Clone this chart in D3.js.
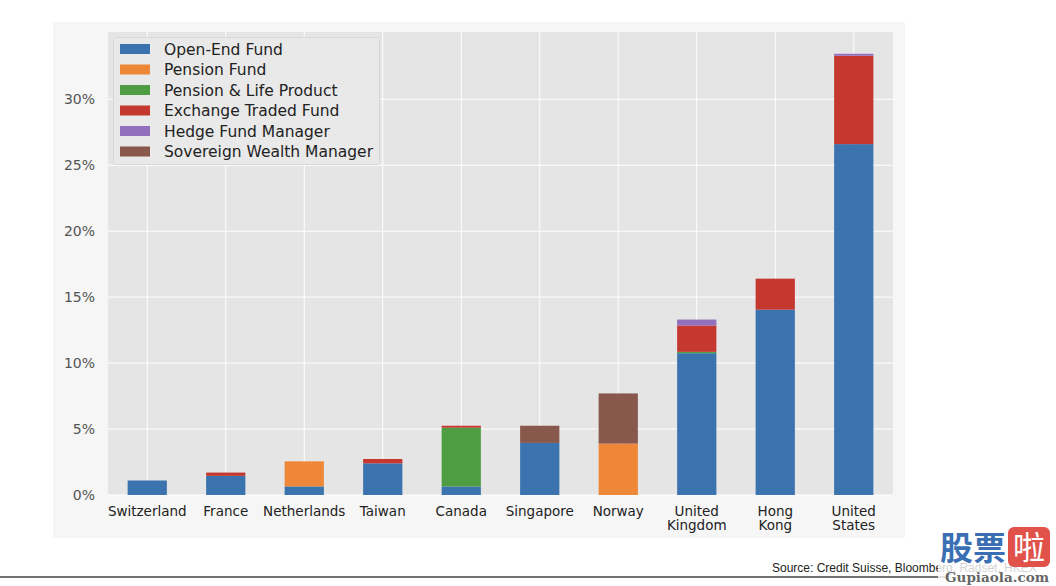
<!DOCTYPE html>
<html>
<head>
<meta charset="utf-8">
<script src="https://cdn.jsdelivr.net/npm/d3@7"></script>
<style>
	body { margin: 0; background: #fff; }
	svg { display: block; }
</style>
</head>
<body>
<div id="chart"></div>
<script>
// countries along the x axis (two-line labels split on \n)
var countries = ['Switzerland', 'France', 'Netherlands', 'Taiwan', 'Canada', 'Singapore', 'Norway', 'United\nKingdom', 'Hong\nKong', 'United\nStates'];
var seriesNames = ['Open-End Fund', 'Pension Fund', 'Pension & Life Product', 'Exchange Traded Fund', 'Hedge Fund Manager', 'Sovereign Wealth Manager'];
var seriesColors = ['#3a73ae', '#ee8737', '#4f9d42', '#c4382f', '#9370bd', '#87584b'];

// % share, one array per series, same order as countries
var openEnd      = [1.1, 1.45, 0.65, 2.4, 0.65, 3.95, 0, 10.75, 14.05, 26.6];
var pensionFund  = [0, 0, 1.9, 0, 0, 0, 3.9, 0, 0, 0];
var pensionLife  = [0, 0, 0, 0, 4.45, 0, 0, 0.1, 0, 0];
var etf          = [0, 0.25, 0, 0.33, 0.15, 0, 0, 2.0, 2.35, 6.7];
var hedgeFund    = [0, 0, 0, 0, 0, 0, 0, 0.45, 0, 0.15];
var sovereign    = [0, 0, 0, 0, 0, 1.3, 3.8, 0, 0, 0];
var yTicks = [0, 5, 10, 15, 20, 25, 30];

var W = 1056, H = 586;
var plot = { left: 108, right: 893, top: 32, bottom: 495 };

var svg = d3.select('#chart').append('svg')
	.attr('width', W)
	.attr('height', H);

// figure + axes background
svg.append('rect').attr('x', 53).attr('y', 22).attr('width', 852).attr('height', 516).attr('fill', '#f6f6f6');
svg.append('rect')
	.attr('x', plot.left).attr('y', plot.top)
	.attr('width', plot.right - plot.left).attr('height', plot.bottom - plot.top)
	.attr('fill', '#e5e5e5');

var x = d3.scaleBand()
	.domain(countries)
	.range([plot.left, plot.right])
	.paddingInner(0.5)
	.paddingOuter(0.25);

var y = d3.scaleLinear()
	.domain([0, 35.1])
	.range([plot.bottom, plot.top]);

// grid
var grid = svg.append('g').attr('class', 'grid');
grid.selectAll('line.h')
	.data(yTicks)
	.enter()
	.append('line')
	.attr('class', 'h')
	.attr('x1', plot.left).attr('x2', plot.right)
	.attr('y1', function(d){ return y(d); })
	.attr('y2', function(d){ return y(d); })
	.attr('stroke', '#fff').attr('stroke-width', 1);
grid.selectAll('line.v')
	.data(countries)
	.enter()
	.append('line')
	.attr('class', 'v')
	.attr('y1', plot.top).attr('y2', plot.bottom)
	.attr('x1', function(d){ return x(d) + x.bandwidth() / 2; })
	.attr('x2', function(d){ return x(d) + x.bandwidth() / 2; })
	.attr('stroke', '#fff').attr('stroke-width', 1);

// stack the series
var rows = countries.map(function(c, i){
	return {
		country: c,
		s0: openEnd[i], s1: pensionFund[i], s2: pensionLife[i],
		s3: etf[i], s4: hedgeFund[i], s5: sovereign[i]
	};
});
var stack = d3.stack().keys(['s0', 's1', 's2', 's3', 's4', 's5']);
var layers = stack(rows);

svg.append('g').attr('class', 'bars')
	.selectAll('g')
	.data(layers)
	.enter()
	.append('g')
	.attr('fill', function(d, i){ return seriesColors[i]; })
	.selectAll('rect')
	.data(function(d){ return d; })
	.enter()
	.append('rect')
	.attr('x', function(d){ return x(d.data.country); })
	.attr('width', x.bandwidth())
	.attr('y', function(d){ return y(d[1]); })
	.attr('height', function(d){ return y(d[0]) - y(d[1]); });

// y axis labels
var yAxis = d3.axisLeft(y)
	.tickValues(yTicks)
	.tickSize(0)
	.tickPadding(13)
	.tickFormat(function(d){ return d + '%'; });
var yg = svg.append('g')
	.attr('transform', 'translate(' + plot.left + ',0)')
	.call(yAxis);
yg.select('.domain').remove();
yg.selectAll('text')
	.attr('font-family', 'DejaVu Sans')
	.attr('font-size', '14px')
	.attr('fill', '#555');

// x axis labels
var xAxis = d3.axisBottom(x).tickSize(0).tickPadding(0);
var xg = svg.append('g')
	.attr('transform', 'translate(0,' + plot.bottom + ')')
	.call(xAxis);
xg.select('.domain').remove();
xg.selectAll('text').remove();
xg.selectAll('.tick').each(function(d){
	var lines = d.split('\n');
	var t = d3.select(this).append('text')
		.attr('text-anchor', 'middle')
		.attr('font-family', 'DejaVu Sans')
		.attr('font-size', '13.5px')
		.attr('fill', '#222');
	lines.forEach(function(l, k){
		t.append('tspan').attr('x', 0).attr('y', 21 + k * 14).text(l);
	});
});

// legend
var legend = svg.append('g').attr('class', 'legend');
legend.append('rect')
	.attr('x', 113.5).attr('y', 37.5).attr('width', 266).attr('height', 127).attr('rx', 2)
	.attr('fill', '#e9e9e9').attr('stroke', '#d8d8d8');
var items = legend.selectAll('g.item')
	.data(seriesNames)
	.enter()
	.append('g')
	.attr('class', 'item')
	.attr('transform', function(d, i){ return 'translate(120,' + (49 + i * 20.5) + ')'; });
items.append('rect')
	.attr('x', 0).attr('y', -5).attr('width', 30).attr('height', 10)
	.attr('fill', function(d, i){ return seriesColors[i]; });
items.append('text')
	.attr('x', 44).attr('y', 5.5)
	.attr('font-family', 'DejaVu Sans')
	.attr('font-size', '15.5px')
	.attr('fill', '#222')
	.text(function(d){ return d; });

// footer
svg.append('line')
	.attr('x1', 0).attr('x2', 945).attr('y1', 577).attr('y2', 577)
	.attr('stroke', '#444').attr('stroke-width', 1.5);
svg.append('text')
	.attr('x', 772).attr('y', 572)
	.attr('font-family', 'Liberation Sans, Arial')
	.attr('font-size', '12px')
	.attr('fill', '#222')
	.text('Source: Credit Suisse, Bloomberg, Radset, HKEX');

// watermark
svg.append('rect').attr('x', 938).attr('y', 556).attr('width', 118).attr('height', 30).attr('fill', '#fff').attr('opacity', 0.8);
svg.append('text')
	.attr('x', 940).attr('y', 560)
	.attr('font-family', 'Noto Sans CJK SC')
	.attr('font-weight', 'bold')
	.attr('font-size', '33px')
	.attr('fill', '#3b6fb4')
	.text('股票');
svg.append('rect')
	.attr('x', 1008).attr('y', 527).attr('width', 42).attr('height', 40).attr('rx', 6)
	.attr('fill', '#e0524a');
svg.append('text')
	.attr('x', 1029).attr('y', 559)
	.attr('text-anchor', 'middle')
	.attr('font-family', 'Noto Sans CJK SC')
	.attr('font-size', '32px')
	.attr('fill', '#fff')
	.text('啦');
svg.append('text')
	.attr('x', 945).attr('y', 582)
	.attr('font-family', 'DejaVu Serif')
	.attr('font-weight', 'bold')
	.attr('font-size', '13px')
	.attr('textLength', 104)
	.attr('lengthAdjust', 'spacingAndGlyphs')
	.attr('fill', '#666')
	.text('Gupiaola.com');
</script>
</body>
</html>
